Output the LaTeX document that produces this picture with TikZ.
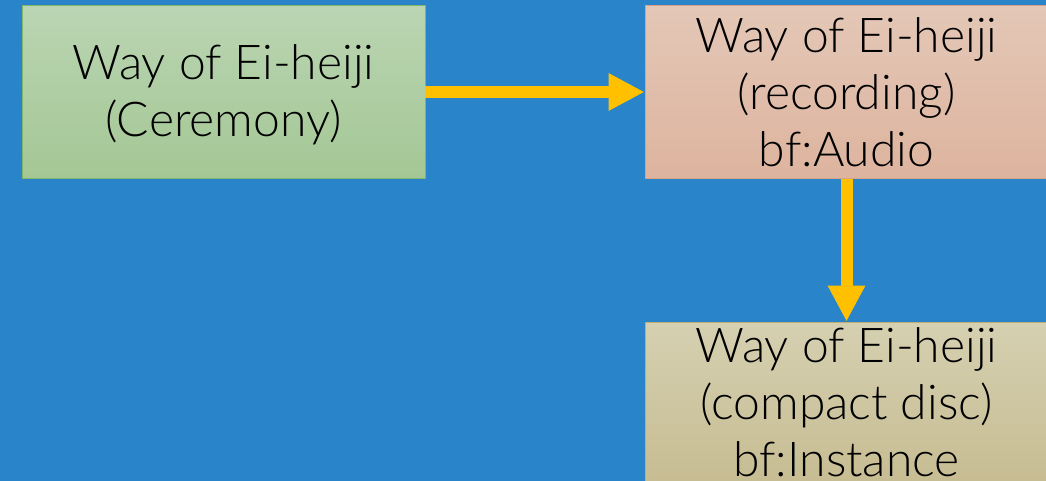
\documentclass[tikz,border=0pt]{standalone}
\usepackage{fontspec}
\setmainfont{Lato Light}
\usetikzlibrary{arrows.meta}
\definecolor{bgblue}{HTML}{2A84C9}
\definecolor{arrowyellow}{HTML}{FFC000}
\definecolor{gtop}{HTML}{BAD5B3}
\definecolor{gbot}{HTML}{A4C794}
\definecolor{gline}{HTML}{82B56C}
\definecolor{ptop}{HTML}{E4C7B7}
\definecolor{pbot}{HTML}{DDB49E}
\definecolor{pline}{HTML}{D8A285}
\definecolor{ttop}{HTML}{D5D0B1}
\definecolor{tbot}{HTML}{C6BB90}
\definecolor{tline}{HTML}{BDAE72}
\tikzset{
  boxnode/.style={minimum width=403pt, minimum height=173pt, inner sep=0pt,
    line width=0.8pt},
  boxtext/.style={inner sep=0pt, align=center,
    font=\fontsize{48}{57}\selectfont, text=black},
  greenbox/.style={boxnode, draw=gline, top color=gtop, bottom color=gbot},
  pinkbox/.style={boxnode, draw=pline, top color=ptop, bottom color=pbot},
  tanbox/.style={boxnode, draw=tline, top color=ttop, bottom color=tbot},
  flowarrow/.style={draw=arrowyellow, line width=12pt,
    -{Triangle[length=36pt,width=35pt]}}
}
\begin{document}
\begin{tikzpicture}[x=1pt,y=-1pt]
\useasboundingbox (0,0) rectangle (1046,481);
\clip (0,0) rectangle (1046,481);
\fill[bgblue] (0,0) rectangle (1046,481);
\node[greenbox] (cer) at (223.5,92) {};
\node[pinkbox] (rec) at (846.5,92) {};
\node[tanbox] (cd) at (846.5,408.5) {};
\node[boxtext] (certext) at ([yshift=-3pt]cer.center) {Way of Ei-heiji\\(Ceremony)};
\node[boxtext] (rectext) at (rec.center) {Way of Ei-heiji\\(recording)\\bf:Audio};
\node[boxtext] (cdtext) at ([yshift=6pt]cd.center) {Way of Ei-heiji\\(compact disc)\\bf:Instance};
\draw[flowarrow] (cer) -- (rec);
\draw[flowarrow] (rec) -- (cd);
\end{tikzpicture}
\end{document}
